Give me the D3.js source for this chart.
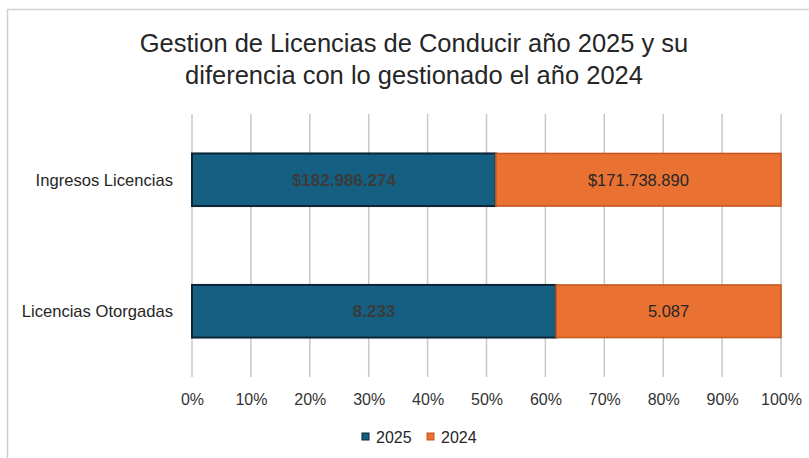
<!DOCTYPE html>
<html><head><meta charset="utf-8">
<script src="https://cdn.jsdelivr.net/npm/d3@7"></script>
<style>
html,body{margin:0;padding:0;background:#fff;}
svg{display:block;}
</style></head>
<body>
<svg id="chart" width="809" height="458"></svg>
<script>
const titleLines = ["Gestion de Licencias de Conducir año 2025 y su", "diferencia con lo gestionado el año 2024"];
const categories = ["Ingresos Licencias", "Licencias Otorgadas"];
const seriesNames = ["2025", "2024"];
const values2025 = [182986274, 8233];
const values2024 = [171738890, 5087];
const labelPrefix = ["$", ""];
const tickValues = [0, 0.1, 0.2, 0.3, 0.4, 0.5, 0.6, 0.7, 0.8, 0.9, 1.0];

const colors = {"2025": "#156082", "2024": "#E97132"};
const strokes = {"2025": "#0b2536", "2024": "#c4561c"};
const labelColors = {"2025": "#3b3b3b", "2024": "#262626"};

const svg = d3.select("#chart");
const locale = d3.formatLocale({decimal: ",", thousands: ".", grouping: [3], currency: ["$", ""]});
const fmt = locale.format(",d");

// frame
svg.append("rect").attr("x", 7.5).attr("y", 9.5).attr("width", 840).attr("height", 480)
  .attr("fill", "#fff").attr("stroke", "#d0d0d0").attr("stroke-width", 1.5);

// title
const title = svg.append("text").attr("text-anchor", "middle")
  .attr("font-family", "'Liberation Sans Narrow', 'Arial Narrow', 'Liberation Sans', sans-serif")
  .attr("font-size", 25.5).attr("fill", "#262626");
titleLines.forEach((t, i) => {
  title.append("tspan").attr("x", 414).attr("y", 52 + i * 32).text(t);
});

const x = d3.scaleLinear().domain([0, 1]).range([192, 781]);
const y = d3.scaleBand().domain(categories).range([114, 377]).paddingInner(0.6).paddingOuter(0.3);

// gridlines
svg.append("g").selectAll("line").data(tickValues).join("line")
  .attr("x1", d => x(d)).attr("x2", d => x(d))
  .attr("y1", 114).attr("y2", 377)
  .attr("stroke", "#c8c8c8").attr("stroke-width", 1.5);

// axis labels
const xAxis = d3.axisBottom(x).tickValues(tickValues).tickFormat(d3.format(".0%")).tickSize(0).tickPadding(0);
const ax = svg.append("g").attr("transform", "translate(0,394)").call(xAxis);
ax.select(".domain").remove();
ax.selectAll("text").attr("font-family", "'Liberation Sans', Arial, sans-serif")
  .attr("font-size", 16).attr("fill", "#333").attr("dy", "0.71em").attr("y", 0);

// stacked data
const rows = categories.map((c, i) => ({cat: c, "2025": values2025[i], "2024": values2024[i], prefix: labelPrefix[i]}));
const stack = d3.stack().keys(seriesNames).offset(d3.stackOffsetExpand);
const stacked = stack(rows);

const gBars = svg.append("g");
stacked.forEach(layer => {
  const key = layer.key;
  gBars.append("g").selectAll("rect").data(layer).join("rect")
    .attr("x", d => x(d[0]))
    .attr("y", d => y(d.data.cat))
    .attr("width", d => x(d[1]) - x(d[0]))
    .attr("height", y.bandwidth())
    .attr("fill", colors[key])
    .attr("stroke", strokes[key])
    .attr("stroke-width", key === "2025" ? 2 : 1.5);
});
stacked.forEach(layer => {
  const key = layer.key;
  gBars.append("g").selectAll("text").data(layer).join("text")
    .attr("x", d => (x(d[0]) + x(d[1])) / 2)
    .attr("y", d => y(d.data.cat) + y.bandwidth() / 2)
    .attr("dy", "0.36em")
    .attr("text-anchor", "middle")
    .attr("font-family", "'Liberation Sans', Arial, sans-serif")
    .attr("font-size", key === "2025" ? 17 : 16.5)
    .attr("font-weight", key === "2025" ? "bold" : "normal")
    .attr("fill", labelColors[key])
    .text(d => d.data.prefix + fmt(d.data[key]));
});

// category labels
svg.append("g").selectAll("text").data(categories).join("text")
  .attr("x", 173).attr("y", d => y(d) + y.bandwidth() / 2).attr("dy", "0.36em")
  .attr("text-anchor", "end")
  .attr("font-family", "'Liberation Sans', Arial, sans-serif")
  .attr("font-size", 16.6).attr("fill", "#262626")
  .text(d => d);

// legend
const legend = svg.append("g");
const legendX = [362, 427];
seriesNames.forEach((s, i) => {
  legend.append("rect").attr("x", legendX[i]).attr("y", 433).attr("width", 7).attr("height", 7)
    .attr("fill", colors[s]).attr("stroke", strokes[s]).attr("stroke-width", 1);
  legend.append("text").attr("x", legendX[i] + 14).attr("y", 437).attr("dy", "0.36em")
    .attr("font-family", "'Liberation Sans', Arial, sans-serif")
    .attr("font-size", 16).attr("fill", "#262626").text(s);
});
</script>
</body></html>
